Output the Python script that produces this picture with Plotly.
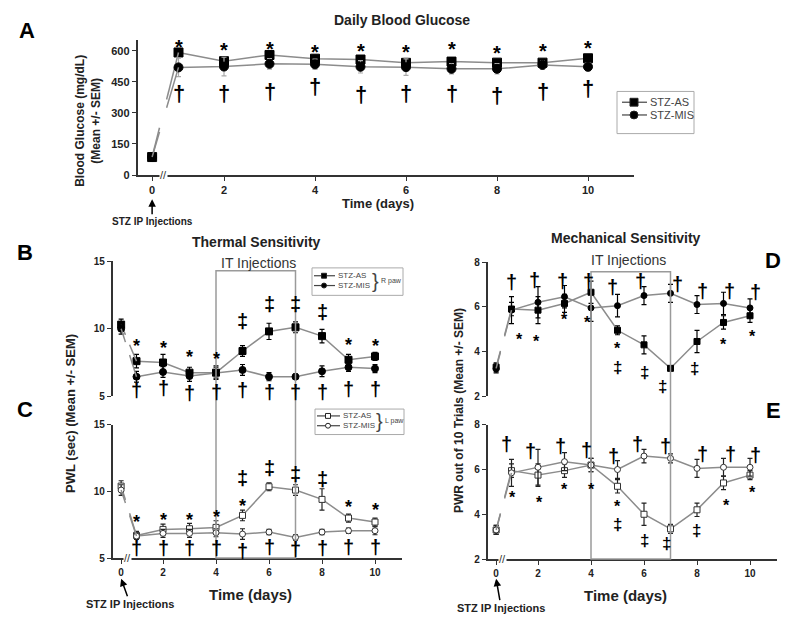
import plotly.graph_objects as go

# The page body has an 8px margin, so the figure is drawn 8px in from the window corner.
OFF = 8
W, H = 800 - 2 * OFF, 625 - 2 * OFF
FONT = "Liberation Sans"
BREAK = 0.42  # display position of day 0 on the broken axis

days = [0, 1, 2, 3, 4, 5, 6, 7, 8, 9, 10]
tick_days = [0, 2, 4, 6, 8, 10]

# ---- Panel A: daily blood glucose
a_as = [87, 592, 550, 580, 562, 558, 542, 548, 543, 543, 564]
a_as_err = [10, 15, 18, 15, 18, 15, 22, 18, 18, 18, 15]
a_mis = [87, 520, 524, 537, 535, 523, 521, 513, 513, 532, 523]
a_mis_err = [10, 45, 45, 25, 25, 30, 40, 25, 25, 20, 20]
a_star_x = [1, 2, 3, 4, 5, 6, 7, 8, 9, 10]
a_star_y = [640, 625, 630, 615, 620, 612, 628, 610, 620, 632]
a_dag_x = [1, 2, 3, 4, 5, 6, 7, 8, 9, 10]
a_dag_y = [395, 395, 405, 430, 390, 395, 395, 385, 405, 420]

# ---- Panel B: thermal, right paw
b_as = [10.3, 7.6, 7.5, 6.75, 6.75, 8.35, 9.8, 10.1, 9.45, 7.7, 7.95]
b_as_err = [0.4, 0.5, 0.6, 0.4, 0.4, 0.4, 0.6, 0.4, 0.5, 0.4, 0.3]
b_mis = [10.0, 6.45, 6.8, 6.5, 6.75, 6.95, 6.45, 6.45, 6.85, 7.15, 7.05]
b_mis_err = [0.4, 0.4, 0.4, 0.4, 0.5, 0.4, 0.3, 0.2, 0.4, 0.3, 0.3]
b_star_x = [1, 2, 3, 4, 9, 10]
b_star_y = [9.0, 8.85, 8.2, 8.05, 9.05, 8.95]
b_dd_x = [5, 6, 7, 8]
b_dd_y = [10.6, 11.8, 11.8, 11.2]
b_dag_x = [1, 2, 3, 4, 5, 6, 7, 8, 9, 10]
b_dag_y = [5.5, 5.6, 5.25, 5.35, 5.5, 5.35, 5.35, 5.35, 5.55, 5.55]

# ---- Panel C: thermal, left paw
c_as = [10.4, 6.7, 7.15, 7.2, 7.3, 8.2, 10.35, 10.1, 9.4, 8.0, 7.7]
c_as_err = [0.4, 0.3, 0.4, 0.4, 0.5, 0.4, 0.3, 0.4, 0.8, 0.3, 0.3]
c_mis = [10.1, 6.65, 6.85, 6.85, 6.9, 6.8, 6.95, 6.55, 6.95, 7.05, 7.05]
c_mis_err = [0.4, 0.2, 0.3, 0.3, 0.3, 0.4, 0.2, 0.2, 0.2, 0.2, 0.3]
c_star_x = [1, 2, 3, 4, 5, 9, 10]
c_star_y = [8.0, 8.15, 8.15, 8.35, 9.2, 9.1, 8.9]
c_dd_x = [5, 6, 7, 8]
c_dd_y = [11.0, 11.75, 11.3, 10.95]
c_dag_x = [1, 2, 3, 4, 5, 6, 7, 8, 9, 10]
c_dag_y = [5.75, 5.75, 5.75, 5.75, 5.5, 5.8, 5.65, 5.75, 5.8, 5.8]

# ---- Panel D: mechanical, right paw
d_as = [3.3, 5.9, 5.85, 6.15, 6.65, 4.95, 4.3, 3.25, 4.45, 5.3, 5.6]
d_as_err = [0.2, 0.3, 0.6, 0.4, 0.5, 0.2, 0.4, 0.1, 0.5, 0.3, 0.3]
d_mis = [3.25, 5.85, 6.2, 6.45, 5.95, 6.05, 6.5, 6.6, 6.1, 6.15, 5.95]
d_mis_err = [0.2, 0.6, 0.7, 0.5, 0.6, 0.5, 0.4, 0.4, 0.4, 0.5, 0.4]
d_dag_x = [1.0, 1.85, 2.92, 3.9, 4.8, 5.87, 7.27, 8.2, 9.22, 10.22]
d_dag_y = [7.1, 7.2, 7.17, 7.17, 6.88, 7.17, 7.0, 6.7, 6.7, 6.66]
d_star_x = [1.3, 1.95, 3.0, 3.85, 5.0, 9.0, 10.1]
d_star_y = [4.66, 4.58, 5.56, 5.45, 4.28, 4.47, 4.83]
d_dd_x = [5, 6, 6.7, 7.9]
d_dd_y = [3.3, 3.05, 2.42, 3.23]

# ---- Panel E: mechanical, left paw
e_as = [3.3, 5.95, 5.75, 5.95, 6.2, 5.25, 4.0, 3.35, 4.2, 5.4, 5.75]
e_as_err = [0.2, 0.3, 0.5, 0.3, 0.3, 0.3, 0.5, 0.2, 0.3, 0.3, 0.2]
e_mis = [3.3, 5.85, 6.1, 6.35, 6.2, 6.0, 6.6, 6.5, 6.05, 6.1, 6.1]
e_mis_err = [0.2, 0.6, 0.8, 0.4, 0.3, 0.4, 0.3, 0.2, 0.4, 0.4, 0.4]
e_dag_x = [0.82, 1.73, 2.83, 3.84, 4.85, 5.76, 6.8, 8.19, 9.25, 10.2]
e_dag_y = [7.13, 6.84, 7.06, 6.87, 6.62, 7.13, 7.06, 6.7, 6.7, 6.67]
e_star_x = [1.04, 2.05, 3.0, 4.0, 5.0, 9.12, 10.1]
e_star_y = [4.88, 4.66, 5.27, 5.27, 4.5, 4.52, 5.1]
e_dd_x = [5, 6, 6.85, 7.98]
e_dd_y = [3.55, 2.84, 2.7, 3.28]


def px(x):
    return (x - OFF) / W


def py(y):
    return 1 - (y - OFF) / H


def disp(d):
    return BREAK if d == 0 else d


fig = go.Figure()

DARK = "#222222"
LINEGRAY = "#8c8c8c"


def add_series(xa, ya, vals, errs, symbol, msize, mcolor, mline, ecolor, lcolor):
    xs = [disp(d) for d in days]
    fig.add_trace(go.Scatter(
        x=xs[1:], y=vals[1:], xaxis=xa, yaxis=ya, mode="lines+markers",
        line=dict(color=lcolor, width=1.5),
        marker=dict(symbol=symbol, size=msize, color=mcolor,
                    line=dict(color=mline, width=1)),
        error_y=dict(type="data", array=errs[1:], color=ecolor, thickness=1.2, width=2.5),
        showlegend=False, hoverinfo="skip"))
    fig.add_trace(go.Scatter(
        x=xs[:1], y=vals[:1], xaxis=xa, yaxis=ya, mode="markers",
        marker=dict(symbol=symbol, size=msize, color=mcolor,
                    line=dict(color=mline, width=1)),
        error_y=dict(type="data", array=errs[:1], color=ecolor, thickness=1.2, width=2.5),
        showlegend=False, hoverinfo="skip"))
    # broken connector from day 0 to day 1
    x0, y0, x1, y1 = xs[0], vals[0], xs[1], vals[1]
    for f0, f1 in [(0.0, 0.28), (0.55, 1.0)]:
        fig.add_trace(go.Scatter(
            x=[x0 + (x1 - x0) * f0, x0 + (x1 - x0) * f1],
            y=[y0 + (y1 - y0) * f0, y0 + (y1 - y0) * f1],
            xaxis=xa, yaxis=ya, mode="lines",
            line=dict(color=lcolor, width=1.5),
            showlegend=False, hoverinfo="skip"))


add_series("x", "y", a_as, a_as_err, "square", 9, "black", "black", "#aaaaaa", LINEGRAY)
add_series("x", "y", a_mis, a_mis_err, "circle", 9, "black", "black", "#aaaaaa", LINEGRAY)
add_series("x2", "y2", b_as, b_as_err, "square", 7, "black", "black", "black", LINEGRAY)
add_series("x2", "y2", b_mis, b_mis_err, "circle", 7, "black", "black", "black", LINEGRAY)
add_series("x3", "y3", c_as, c_as_err, "square", 6, "white", "#333333", "#222222", LINEGRAY)
add_series("x3", "y3", c_mis, c_mis_err, "circle", 6, "white", "#333333", "#222222", LINEGRAY)
add_series("x4", "y4", d_as, d_as_err, "square", 6, "black", "black", "black", LINEGRAY)
add_series("x4", "y4", d_mis, d_mis_err, "circle", 6, "black", "black", "black", LINEGRAY)
add_series("x5", "y5", e_as, e_as_err, "square", 6, "white", "#333333", "#222222", LINEGRAY)
add_series("x5", "y5", e_mis, e_mis_err, "circle", 6, "white", "#333333", "#222222", LINEGRAY)

annotations = []


def sym(xa, ya, xs, ys, text, size):
    shift = -0.2 * size if text == "*" else 0
    for x, y in zip(xs, ys):
        annotations.append(dict(x=x, y=y, xref=xa, yref=ya, text=f"<b>{text}</b>",
                                showarrow=False, xanchor="center", yanchor="middle",
                                font=dict(family=FONT, size=size, color="black"),
                                yshift=shift))


sym("x", "y", a_star_x, a_star_y, "*", 20)
sym("x", "y", a_dag_x, a_dag_y, "†", 22)
sym("x2", "y2", b_star_x, b_star_y, "*", 18)
sym("x2", "y2", b_dd_x, b_dd_y, "‡", 20)
sym("x2", "y2", b_dag_x, b_dag_y, "†", 20)
sym("x3", "y3", c_star_x, c_star_y, "*", 18)
sym("x3", "y3", c_dd_x, c_dd_y, "‡", 20)
sym("x3", "y3", c_dag_x, c_dag_y, "†", 20)
sym("x4", "y4", d_star_x, d_star_y, "*", 16)
sym("x4", "y4", d_dd_x, d_dd_y, "‡", 17)
sym("x4", "y4", d_dag_x, d_dag_y, "†", 20)
sym("x5", "y5", e_star_x, e_star_y, "*", 16)
sym("x5", "y5", e_dd_x, e_dd_y, "‡", 17)
sym("x5", "y5", e_dag_x, e_dag_y, "†", 20)


def txt(x, y, text, size, bold=False, color=DARK, angle=0, xanchor="center"):
    t = f"<b>{text}</b>" if bold else text
    annotations.append(dict(x=px(x), y=py(y), xref="paper", yref="paper", text=t,
                            showarrow=False, textangle=angle, xanchor=xanchor,
                            yanchor="middle",
                            font=dict(family=FONT, size=size, color=color)))


txt(402, 14, "Daily Blood Glucose", 14, True)
txt(256, 241, "Thermal Sensitivity", 14, True)
txt(626, 237, "Mechanical Sensitivity", 14, True)
txt(258, 262, "IT Injections", 14, False, "#333333")
txt(628, 259, "IT Injections", 14, False, "#333333")
txt(27, 25, "A", 22, True, "black")
txt(25, 251, "B", 22, True, "black")
txt(25, 411, "C", 22, True, "black")
txt(773, 259, "D", 22, True, "black")
txt(773, 412, "E", 22, True, "black")
txt(88, 117, "Blood Glucose (mg/dL)<br>(Mean +/- SEM)", 12, True, angle=-90)
txt(71, 416, "PWL (sec) (Mean +/- SEM)", 13, True, angle=-90)
txt(459, 413, "PWR out of 10 Trials (Mean +/- SEM)", 12, True, angle=-90)
txt(378, 201, "Time (days)", 13, True)
txt(250, 600, "Time (days)", 15, True)
txt(625, 601, "Time (days)", 15, True)

# STZ IP injection arrows
for xa, tipy, ty, size, dx in [("x", 197, 219, 10, 0), ("x3", 584, 609, 11, 9), ("x5", 584, 613, 11, 5)]:
    annotations.append(dict(x=BREAK, y=py(tipy), xref=xa, yref="paper",
                            text="<b>STZ IP Injections</b>", showarrow=True,
                            arrowhead=2, arrowsize=1, arrowwidth=1.5, arrowcolor="black",
                            axref="pixel", ayref="pixel", ax=dx, ay=ty - tipy,
                            font=dict(family=FONT, size=size, color=DARK), standoff=0))

# axis break marks
for xa, ya in [("x", "y domain"), ("x3", "y3 domain"), ("x5", "y5 domain")]:
    annotations.append(dict(x=0.66, y=0, xref=xa, yref=ya, text="//", showarrow=False,
                            xanchor="center", yanchor="middle",
                            font=dict(family=FONT, size=11, color="#333333"),
                            bgcolor="white", borderpad=0))

shapes = []
shapes.append(dict(type="rect", xref="x3", yref="paper", x0=4, x1=7, y0=py(563), y1=py(270),
                   line=dict(color="#9a9a9a", width=1.5)))
shapes.append(dict(type="rect", xref="x5", yref="paper", x0=4, x1=7, y0=py(564), y1=py(271),
                   line=dict(color="#9a9a9a", width=1.5)))


def legend(box, items, fsize, msize, lx0, lx1, mx, tx, brace=None):
    x0, y0, x1, y1 = box
    shapes.append(dict(type="rect", xref="paper", yref="paper", x0=px(x0), x1=px(x1),
                       y0=py(y1), y1=py(y0), line=dict(color="#aaaaaa", width=1)))
    for (name, shape, fill, yy) in items:
        shapes.append(dict(type="line", xref="paper", yref="paper", x0=px(lx0), x1=px(lx1),
                           y0=py(yy), y1=py(yy), line=dict(color="#444444", width=1.2)))
        r = msize / 2
        shapes.append(dict(type="rect" if shape == "square" else "circle",
                           xref="paper", yref="paper", x0=px(mx - r), x1=px(mx + r),
                           y0=py(yy + r), y1=py(yy - r), fillcolor=fill,
                           line=dict(color="#222222", width=1)))
        txt(tx, yy, name, fsize, False, "#444444", xanchor="left")
    if brace:
        bx, by, label = brace
        txt(bx, by, "}", 20, False, "#444444")
        txt(bx + 4, by, label, 7, False, "#444444", xanchor="left")


legend((617, 87, 694, 130), [("STZ-AS", "square", "black", 98), ("STZ-MIS", "circle", "black", 111)],
       11, 8, 622, 647, 634, 648)
legend((312, 267, 403, 295), [("STZ-AS", "square", "black", 275), ("STZ-MIS", "circle", "black", 285)],
       8, 5, 314, 335, 324, 336, (375, 280, "R paw"))
legend((315, 411, 404, 437), [("STZ-AS", "square", "white", 418), ("STZ-MIS", "circle", "white", 428)],
       8, 5, 317, 340, 328, 341, (379, 423, "L paw"))

AX = dict(showgrid=False, zeroline=False, showline=True, linecolor="#333333", linewidth=1.5,
          ticks="outside", ticklen=4, tickcolor="#333333", tickwidth=1.2)

tick_pos = [disp(d) for d in tick_days]
tick_txt = [str(d) for d in tick_days]

fig.update_layout(
    width=W, height=H, margin=dict(l=0, r=0, t=0, b=0),
    paper_bgcolor="white", plot_bgcolor="white", showlegend=False,
    annotations=annotations, shapes=shapes,
    xaxis=dict(AX, domain=[px(137.55), px(633.5)], range=[0.1, 11.0], anchor="y",
               tickvals=tick_pos, ticktext=tick_txt,
               tickfont=dict(family=FONT, size=11, color=DARK, weight="bold")),
    yaxis=dict(AX, domain=[py(172.3), py(35)], range=[0, 650], anchor="x",
               tickvals=[0, 150, 300, 450, 600],
               tickfont=dict(family=FONT, size=11, color=DARK, weight="bold")),
    xaxis2=dict(domain=[px(112.65), px(401.5)], range=[0.1, 11.0], anchor="y2",
                visible=False),
    yaxis2=dict(AX, domain=[py(398), py(260)], range=[5, 15], anchor="x2",
                tickvals=[5, 10, 15],
                tickfont=dict(family=FONT, size=10, color=DARK, weight="bold")),
    xaxis3=dict(AX, domain=[px(112.65), px(401.5)], range=[0.1, 11.0], anchor="y3",
                tickvals=tick_pos, ticktext=tick_txt,
                tickfont=dict(family=FONT, size=10, color=DARK, weight="bold")),
    yaxis3=dict(AX, domain=[py(563), py(427)], range=[5, 15], anchor="x3",
                tickvals=[5, 10, 15],
                tickfont=dict(family=FONT, size=10, color=DARK, weight="bold")),
    xaxis4=dict(domain=[px(487.65), px(776.5)], range=[0.1, 11.0], anchor="y4",
                visible=False),
    yaxis4=dict(AX, domain=[py(398), py(261)], range=[2, 8], anchor="x4",
                tickvals=[2, 4, 6, 8],
                tickfont=dict(family=FONT, size=10, color=DARK, weight="bold")),
    xaxis5=dict(AX, domain=[px(487.65), px(776.5)], range=[0.1, 11.0], anchor="y5",
                tickvals=tick_pos, ticktext=tick_txt,
                tickfont=dict(family=FONT, size=10, color=DARK, weight="bold")),
    yaxis5=dict(AX, domain=[py(564), py(427)], range=[2, 8], anchor="x5",
                tickvals=[2, 4, 6, 8],
                tickfont=dict(family=FONT, size=10, color=DARK, weight="bold")),
)

fig.write_html("out.html")
